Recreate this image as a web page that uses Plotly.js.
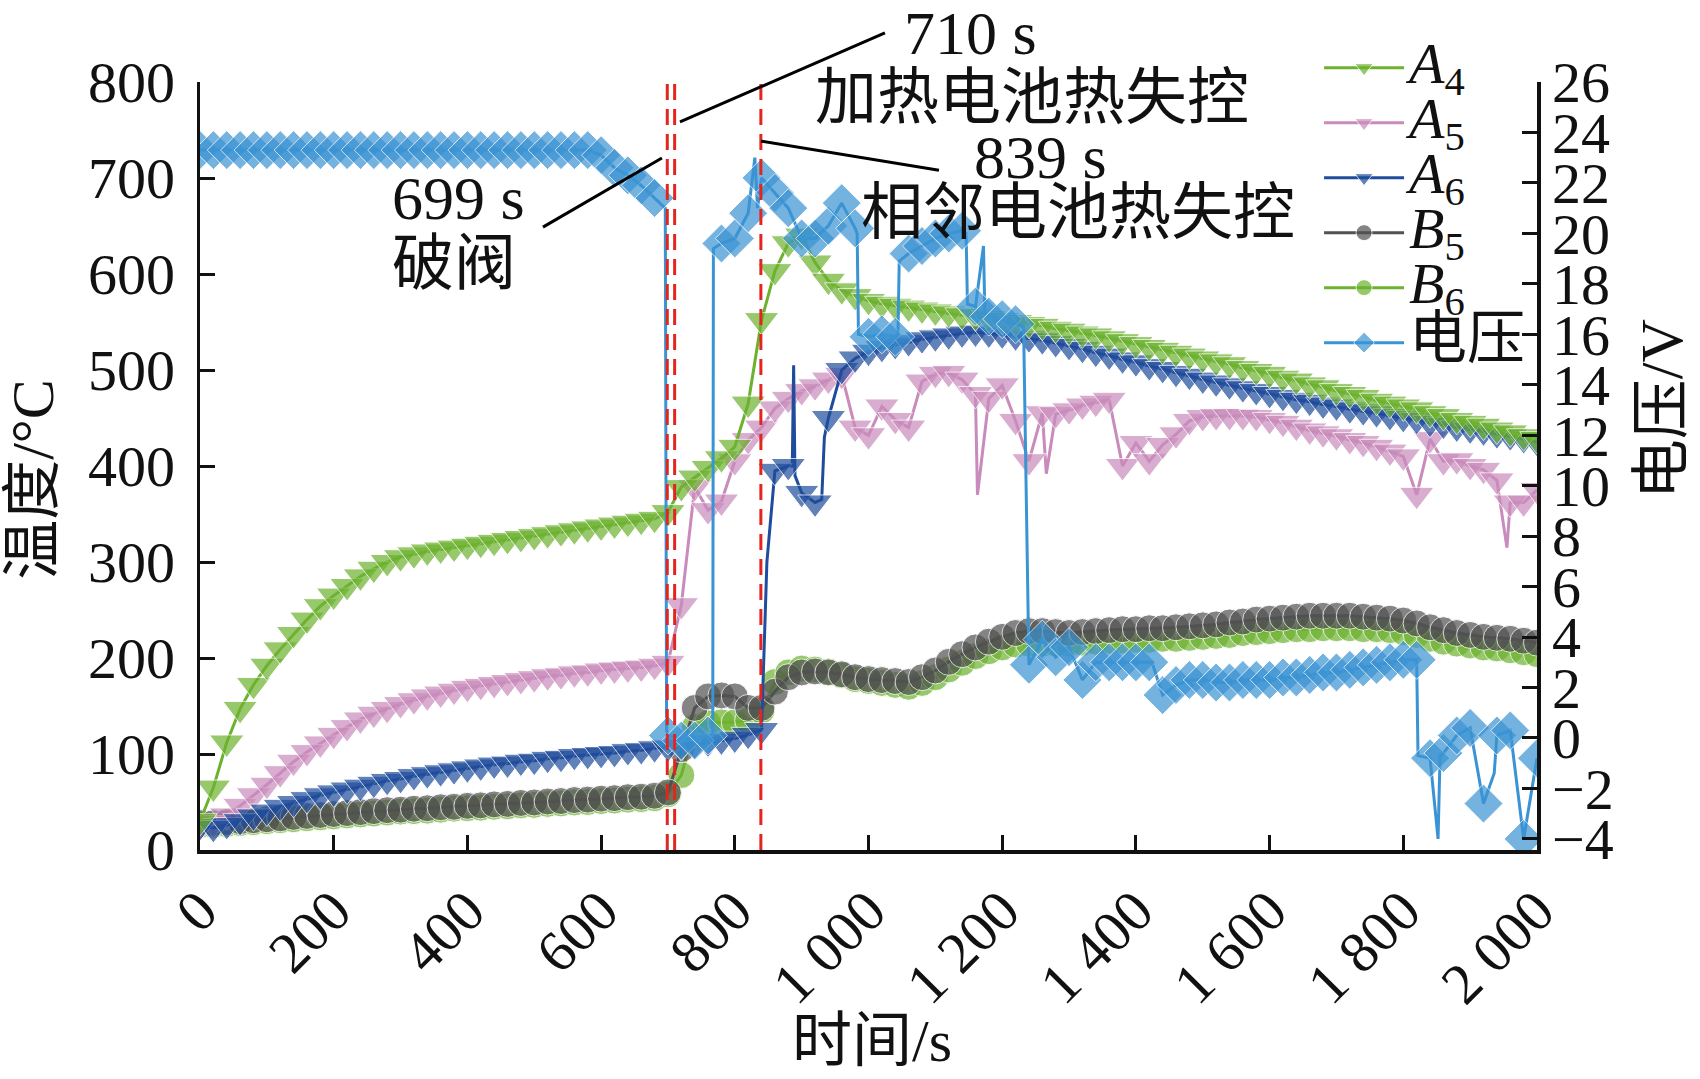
<!DOCTYPE html>
<html>
<head>
<meta charset="utf-8">
<script src="https://cdn.plot.ly/plotly-3.0.1.min.js"></script>
<style>
html, body { margin: 0; padding: 0; background: #fff; }
#chart { width: 1700px; height: 1079px; }
</style>
</head>
<body>
<div id="chart"></div>
<script>
// sampling grid (s), one marker every 20 s
var time = [0,20,40,60,80,100,120,140,160,180,
	200,220,240,260,280,300,320,340,360,380,
	400,420,440,460,480,500,520,540,560,580,
	600,620,640,660,680,700,720,740,760,780,
	800,820,840,860,880,900,920,940,960,980,
	1000,1020,1040,1060,1080,1100,1120,1140,1160,1180,
	1200,1220,1240,1260,1280,1300,1320,1340,1360,1380,
	1400,1420,1440,1460,1480,1500,1520,1540,1560,1580,
	1600,1620,1640,1660,1680,1700,1720,1740,1760,1780,
	1800,1820,1840,1860,1880,1900,1920,1940,1960,1980,
	2000];

// temperatures, degC
var tempA4 = [30,65,112,147,172,192,209,225,240,254,
	265,275,285,293,300,305,308,311,313,315,
	317,319,321,323,325,327,329,331,333,335,
	337,339,341,343,345,352,378,388,398,408,
	420,465,552,603,632,640,612,593,583,577,
	572,569,567,565,563,561,559,557,556,554,
	552,550,548,546,543,541,538,536,533,530,
	527,524,521,518,515,512,509,506,502,499,
	496,492,489,485,482,478,475,472,468,465,
	462,459,455,452,448,445,442,438,435,431,
	428];
var tempA5 = [25,28,36,46,57,68,80,92,102,111,
	120,128,136,142,147,152,156,160,163,166,
	169,171,173,175,177,179,181,182,184,185,
	187,188,189,190,192,195,255,378,354,363,
	405,427,440,460,470,478,483,490,495,440,
	432,462,448,440,488,496,497,490,475,470,
	484,447,405,455,454,458,463,466,469,400,
	424,405,422,433,447,451,452,452,452,451,
	448,445,441,437,434,431,427,424,420,415,
	410,370,428,405,406,400,396,385,362,362,
	375];
var tempA6 = [25,23,26,30,35,40,45,49,53,57,
	60,63,66,69,72,74,77,79,81,83,
	85,87,89,90,92,93,95,96,98,99,
	100,101,103,104,106,107,108,110,112,114,
	116,120,125,395,400,372,362,450,500,512,
	519,523,526,529,532,534,536,538,539,538,
	537,535,533,531,528,525,522,518,515,511,
	508,504,501,497,494,490,487,484,481,478,
	475,472,469,467,464,462,459,457,455,452,
	450,448,445,443,440,438,436,433,431,428,
	425];
var tempB5 = [28,28,29,30,31,32,33,34.5,35.5,36.5,
	37.5,38.5,39.5,40.5,41.5,42,43,43.5,44.5,45,
	46,46.5,47.5,48,49,49.5,50.5,51,52,52.5,
	53.5,54,55,55.5,56.5,60,105,148,160,161,
	160,148,148,165,180,185,186,185,183,180,
	178,177,176,175,180,187,196,204,211,217,
	222,226,228,228,227,226,227,228,229,230,
	230,231,231,232,233,234,235,237,238,240,
	241,242,243,244,244,244,244,243,242,241,
	239,236,232,229,226,224,222,221,220,218,
	216];
var tempB6 = [26,26,27,28,29,30,31,32,33,34,
	35,36,37,38,39,40,40.5,41,42,43,
	43.5,44,45,45.5,46.5,47,48,48.5,49.5,50,
	51,51.5,52.5,53,54,58,78,128,132,133,
	133,135,145,175,185,189,188,186,182,178,
	176,174,172,170,174,180,188,195,202,207,
	211,214,215,215,215,215,216,217,218,218,
	219,219,220,220,221,222,223,224,226,227,
	228,229,230,230,231,231,231,230,230,229,
	227,224,220,217,215,213,211,210,208,206,
	204];
// voltage, V
var voltage = [23.3,23.3,23.3,23.3,23.3,23.3,23.3,23.3,23.3,23.3,
	23.3,23.3,23.3,23.3,23.3,23.3,23.3,23.3,23.3,23.3,
	23.3,23.3,23.3,23.3,23.3,23.3,23.3,23.3,23.3,23.3,
	23.1,22.6,22.3,21.9,21.4,0.1,-0.1,-0.1,0.1,19.6,
	19.8,20.8,22.2,21.6,21.0,19.8,19.8,20.3,21.2,20.2,
	15.9,16.0,15.9,19.2,19.5,19.8,20.0,20.1,17.1,16.7,
	16.6,16.4,2.9,3.9,3.2,3.6,2.3,3.0,3.0,3.0,
	3.0,3.0,1.7,2.1,2.3,2.3,2.2,2.2,2.3,2.3,
	2.3,2.4,2.4,2.5,2.6,2.6,2.7,2.8,2.9,3.0,
	3.1,3.1,-0.8,-0.6,0.1,0.4,-2.6,0.1,0.3,-4.0,
	-0.8];

// short excursions between samples (no marker drawn)
var a5SpikeT = [1163,1266,1955];
var a5SpikeV = [370,392,315];
var a6SpikeT = [848,886,888,890,930,934];
var a6SpikeV = [300,400,505,390,365,430];
var voltSpikeT = [696,698,767,768,830,834,983,985,1044,1046,1146,1148,1172,1174,1232,1424,1822,1852,1855,1936];
var voltSpikeV = [21.0,0.3,0.1,19.4,23.0,21.0,20.0,16.0,16.0,18.9,20.0,17.2,19.5,16.9,16.3,3.0,-0.7,-4.0,-0.7,-1.4];

// event times (s): valve break, heated cell runaway, adjacent cell runaway
var eventTimes = [699, 710, 839];

var xTickVals = [0,200,400,600,800,1000,1200,1400,1600,1800,2000];
var xTickText = ['0','200','400','600','800','1 000','1 200','1 400','1 600','1 800','2 000'];
var vTickVals = [-4,-2,0,2,4,6,8,10,12,14,16,18,20,22,24,26];

var FONT = '"Times New Roman", "Liberation Serif", serif, "Noto Sans CJK SC"';

function merge(base, extraT, extraV) {
	var pts = [];
	time.forEach(function(t, i) { pts.push({t: t, v: base[i], mark: true}); });
	(extraT || []).forEach(function(t, i) { pts.push({t: t, v: extraV[i], mark: false}); });
	pts.sort(function(a, b) { return a.t - b.t; });
	return pts;
}

// legend rows are spaced by legend.font.size, the label itself is drawn larger
function legendName(s) {
	return '<span style="font-size:58px">' + s + '</span>';
}

function makeTrace(name, base, extraT, extraV, color, symbol, size, rank, yaxis) {
	var pts = merge(base, extraT, extraV);
	return {
		type: 'scatter',
		mode: 'lines+markers',
		name: legendName(name),
		legendrank: rank,
		x: pts.map(function(p) { return p.t; }),
		y: pts.map(function(p) { return p.v; }),
		yaxis: yaxis || 'y',
		line: {color: color, width: 3},
		marker: {
			symbol: symbol,
			color: color,
			size: pts.map(function(p) { return p.mark ? size : 0; })
		}
	};
}

var green = '#6cb22f';
var data = [
	makeTrace('<i>B</i><sub>6</sub>', tempB6, null, null, green, 'circle', 27, 5),
	makeTrace('<i>B</i><sub>5</sub>', tempB5, null, null, '#515151', 'circle', 27, 4),
	makeTrace('<i>A</i><sub>5</sub>', tempA5, a5SpikeT, a5SpikeV, '#c98bbb', 'triangle-down', 30, 2),
	makeTrace('<i>A</i><sub>6</sub>', tempA6, a6SpikeT, a6SpikeV, '#1f4c9c', 'triangle-down', 30, 3),
	makeTrace('<i>A</i><sub>4</sub>', tempA4, null, null, green, 'triangle-down', 30, 1),
	makeTrace('电压', voltage, voltSpikeT, voltSpikeV, '#3a93d3', 'diamond', 30, 6, 'y2')
];

var shapes = eventTimes.map(function(t) {
	return {
		type: 'line', xref: 'x', yref: 'y', x0: t, x1: t, y0: 0, y1: 800,
		line: {color: '#e3251f', width: 3, dash: '16px,9px'}
	};
});
// leader lines from the labels to the event lines
var leaders = [
	[0.2565, 0.811, 0.3455, 0.901],
	[0.359, 0.948, 0.5123, 1.064],
	[0.4196, 0.923, 0.5527, 0.885]
];
leaders.forEach(function(l) {
	shapes.push({type: 'line', xref: 'paper', yref: 'paper', x0: l[0], y0: l[1], x1: l[2], y1: l[3],
		line: {color: '#000', width: 3}});
});

function label(text, x, y, size, angle) {
	return {text: text, x: x, y: y, xref: 'paper', yref: 'paper', showarrow: false,
		textangle: angle || 0, xanchor: 'center', yanchor: 'middle',
		font: {family: FONT, size: size || 62, color: '#111'}};
}

var annotations = [
	label('710 s', 0.576, 1.064),
	label('加热电池热失控', 0.622, 0.979),
	label('839 s', 0.629, 0.902),
	label('相邻电池热失控', 0.657, 0.829),
	label('699 s', 0.1937, 0.849),
	label('破阀', 0.19, 0.763),
	label('温度/°C', -0.1249, 0.482, 60, -90),
	label('电压/V', 1.0935, 0.574, 60, -90),
	label('时间/s', 0.5026, -0.2487, 60)
];

var axisCommon = {
	showgrid: false,
	zeroline: false,
	showline: true,
	linecolor: '#111',
	linewidth: 3.5,
	ticks: 'inside',
	ticklen: 15,
	tickwidth: 3,
	tickcolor: '#111',
	tickfont: {family: FONT, size: 58, color: '#111'}
};

var layout = {
	width: 1700,
	height: 1079,
	margin: {l: 200, r: 163, t: 82, b: 229},
	paper_bgcolor: '#fff',
	plot_bgcolor: '#fff',
	font: {family: FONT, color: '#111'},
	showlegend: true,
	legend: {
		x: 0.837, xanchor: 'left', y: 1.061, yanchor: 'top',
		bgcolor: 'rgba(0,0,0,0)',
		font: {family: FONT, size: 40, color: '#111'},
		itemwidth: 80,
		tracegroupgap: 0
	},
	xaxis: Object.assign({}, axisCommon, {
		range: [0, 2000],
		tickvals: xTickVals,
		ticktext: xTickText,
		tickangle: -45
	}),
	yaxis: Object.assign({}, axisCommon, {
		range: [0, 800],
		dtick: 100,
		ticklabelstandoff: 10
	}),
	yaxis2: Object.assign({}, axisCommon, {
		overlaying: 'y',
		side: 'right',
		range: [-4.44, 26],
		tickvals: vTickVals,
		ticklabelstandoff: 0
	}),
	shapes: shapes,
	annotations: annotations
};

Plotly.newPlot('chart', data, layout, {displayModeBar: false, staticPlot: true});
</script>
</body>
</html>
